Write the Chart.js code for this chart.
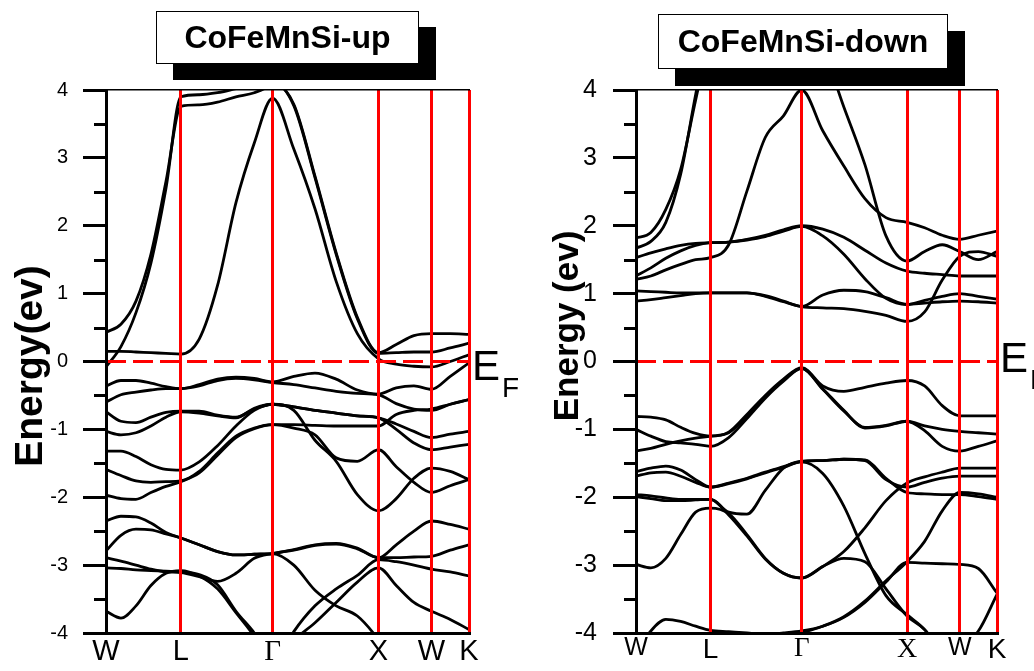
<!DOCTYPE html>
<html>
<head>
<meta charset="utf-8">
<script src="https://cdn.jsdelivr.net/npm/chart.js@4.4.1/dist/chart.umd.min.js"></script>
<style>
  html, body { margin: 0; padding: 0; background: #fff; }
  body { width: 1034px; height: 671px; position: relative; overflow: hidden; }
  canvas { position: absolute; top: 0; }
  .tag {
    position: absolute;
    box-sizing: border-box;
    background: #fff;
    border: 1.5px solid #000;
    font-family: 'Liberation Sans', Arial, sans-serif;
    font-weight: bold;
    font-size: 32px;
    text-align: center;
    color: #000;
  }
</style>
</head>
<body>
<canvas id="upChart" width="530" height="671" style="left:0"></canvas>
<canvas id="downChart" width="517" height="671" style="left:517px"></canvas>
<div class="tag" style="left:156px; top:11px; width:263px; height:53px; line-height:50px; box-shadow:17px 16px 0 #000;">CoFeMnSi-up</div>
<div class="tag" style="left:658px; top:14px; width:290px; height:55px; line-height:52px; box-shadow:17px 17px 0 #000;">CoFeMnSi-down</div>
<script>
// k-path W-L-Γ-X-W-K (units of 2π/a), sample points shared by every band
const kPath = [0, 0.141, 0.283, 0.424, 0.566, 0.707, 0.880, 1.053, 1.227, 1.400, 1.573,
               1.773, 1.973, 2.173, 2.373, 2.573, 2.740, 2.907, 3.073, 3.250, 3.427];
const kSym = [0, 0.707, 1.573, 2.573, 3.073, 3.427];
const upSymLabels = ['W', 'L', 'Γ', 'X', 'W', 'K'];
const downSymLabels = ['W', 'L', 'Γ', 'X', 'W', 'K'];
const yMinor = [-3.5, -2.5, -1.5, -0.5, 0.5, 1.5, 2.5, 3.5];

// spin-up bands (eV)
const upC1 = [0.15, 0.15, 0.14, 0.13, 0.12, 0.11, 0.33, 1.12, 2.34, 3.22, 3.88, 3.13, 2.25, 1.18, 0.41, 0.04, -0.04, -0.07, -0.08, 0.00, 0.10];
const upC2 = [0.43, 0.55, 0.89, 1.58, 2.65, 3.76, 3.78, 3.82, 3.90, 3.96, 4.10, 4.50, 5, 5, 5, 5, 5, 5, 5, 5, 5];
const upC3 = [-0.08, 0.22, 0.72, 1.45, 2.55, 3.90, 3.93, 3.96, 4.02, 4.08, 4.12, 3.77, 2.71, 1.58, 0.63, 0.12, 0.13, 0.14, 0.14, 0.20, 0.27];
const upC4 = [5, 5, 5, 5, 5, 4.50, 4.40, 4.30, 4.20, 4.15, 4.12, 3.79, 2.73, 1.60, 0.65, 0.13, 0.25, 0.38, 0.41, 0.41, 0.40];
const upV1 = [-0.36, -0.28, -0.28, -0.32, -0.37, -0.40, -0.34, -0.26, -0.23, -0.25, -0.30, -0.22, -0.17, -0.26, -0.42, -0.48, -0.39, -0.36, -0.41, -0.22, -0.02];
const upV2 = [-0.60, -0.49, -0.45, -0.42, -0.40, -0.40, -0.36, -0.28, -0.25, -0.27, -0.31, -0.34, -0.39, -0.44, -0.47, -0.49, -0.62, -0.70, -0.72, -0.63, -0.56];
const upV3 = [-0.74, -0.88, -0.90, -0.82, -0.75, -0.73, -0.73, -0.79, -0.82, -0.70, -0.63, -0.67, -0.72, -0.76, -0.80, -0.83, -0.92, -1.03, -1.12, -1.07, -1.03];
const upV4 = [-1.03, -1.08, -1.05, -0.95, -0.82, -0.74, -0.76, -0.80, -0.83, -0.69, -0.63, -0.72, -1.16, -1.47, -1.96, -2.20, -2.02, -1.72, -1.57, -1.62, -1.74];
const upV5 = [-1.32, -1.32, -1.40, -1.52, -1.59, -1.60, -1.48, -1.24, -0.95, -0.72, -0.63, -0.67, -0.72, -0.76, -0.80, -0.83, -1.00, -1.20, -1.30, -1.26, -1.22];
const upV6 = [-1.59, -1.68, -1.76, -1.78, -1.77, -1.76, -1.62, -1.35, -1.10, -0.98, -0.93, -0.93, -0.94, -0.95, -0.95, -0.95, -0.78, -0.72, -0.70, -0.63, -0.56];
const upV7 = [-1.97, -2.02, -2.03, -1.93, -1.84, -1.77, -1.64, -1.38, -1.12, -0.99, -0.93, -0.98, -1.08, -1.42, -1.47, -1.30, -1.55, -1.78, -1.93, -1.83, -1.74];
const upV8 = [-2.35, -2.28, -2.29, -2.38, -2.52, -2.60, -2.70, -2.80, -2.85, -2.84, -2.83, -2.77, -2.70, -2.68, -2.75, -2.89, -2.70, -2.50, -2.35, -2.40, -2.47];
const upV9 = [-2.79, -2.56, -2.47, -2.48, -2.54, -2.60, -2.70, -2.80, -2.85, -2.84, -2.83, -3.00, -3.37, -3.60, -3.75, -4.10, -4.5, -4.5, -4.5, -4.5, -4.5];
const upV10 = [-2.89, -2.94, -3.00, -3.06, -3.10, -3.11, -3.17, -3.24, -3.12, -2.90, -2.83, -2.78, -2.71, -2.69, -2.76, -2.89, -2.89, -2.88, -2.87, -2.78, -2.70];
const upV11 = [-3.04, -3.05, -3.07, -3.08, -3.09, -3.10, -3.14, -3.29, -3.68, -4.00, -4.40, -4.10, -3.85, -3.55, -3.25, -3.04, -3.30, -3.55, -3.68, -3.80, -3.95];
const upV12 = [-3.68, -3.78, -3.60, -3.30, -3.12, -3.08, -3.16, -3.35, -3.70, -4.05, -4.50, -3.98, -3.60, -3.35, -3.15, -2.92, -2.95, -3.00, -3.06, -3.10, -3.16];

// spin-down bands (eV)
const downC1 = [0.89, 0.91, 0.94, 0.97, 1.00, 1.01, 1.01, 1.01, 0.96, 0.88, 0.81, 0.79, 0.78, 0.74, 0.68, 0.59, 0.73, 1.20, 1.55, 1.62, 1.55];
const downC2 = [1.04, 1.03, 1.02, 1.01, 1.01, 1.01, 1.01, 1.01, 0.97, 0.89, 0.81, 0.98, 1.05, 1.03, 0.94, 0.84, 0.86, 0.88, 0.89, 0.88, 0.86];
const downC3 = [1.26, 1.38, 1.52, 1.63, 1.71, 1.75, 1.76, 1.79, 1.84, 1.92, 1.99, 1.85, 1.58, 1.22, 0.93, 0.84, 0.90, 0.96, 1.00, 0.96, 0.92];
const downC4 = [1.53, 1.60, 1.66, 1.71, 1.74, 1.75, 1.76, 1.80, 1.86, 1.94, 2.00, 1.95, 1.83, 1.64, 1.45, 1.33, 1.30, 1.28, 1.26, 1.26, 1.26];
const downC5 = [1.21, 1.26, 1.35, 1.43, 1.50, 1.53, 1.72, 2.51, 3.30, 3.62, 4.00, 3.40, 2.88, 2.40, 2.12, 2.05, 1.97, 1.86, 1.80, 1.86, 1.92];
const downC6 = [1.82, 1.90, 2.24, 2.83, 3.85, 4.80, 5.2, 5.4, 5.4, 5.2, 5.0, 4.60, 3.75, 2.90, 1.85, 1.48, 1.62, 1.72, 1.62, 1.50, 1.62];
const downC7 = [1.67, 1.77, 2.05, 2.76, 3.93, 5.0, 5.4, 5.6, 5.6, 5.6, 5.6, 5.6, 5.6, 5.6, 5.6, 5.6, 5.6, 5.6, 5.6, 5.6, 5.6];
const downV1 = [-0.81, -0.82, -0.86, -0.97, -1.06, -1.10, -1.04, -0.78, -0.50, -0.26, -0.09, -0.36, -0.44, -0.38, -0.32, -0.28, -0.36, -0.65, -0.80, -0.80, -0.80];
const downV2 = [-1.00, -1.10, -1.18, -1.20, -1.22, -1.25, -1.12, -0.84, -0.54, -0.29, -0.10, -0.40, -0.72, -0.98, -0.95, -0.88, -0.95, -1.00, -1.03, -1.05, -1.07];
const downV3 = [-1.32, -1.28, -1.22, -1.17, -1.13, -1.10, -1.05, -0.80, -0.52, -0.27, -0.10, -0.41, -0.73, -0.97, -0.94, -0.88, -1.02, -1.25, -1.32, -1.25, -1.17];
const downV4 = [-1.62, -1.57, -1.54, -1.60, -1.74, -1.85, -1.79, -1.72, -1.63, -1.55, -1.47, -1.46, -1.44, -1.45, -1.72, -1.93, -1.95, -1.96, -1.96, -1.99, -2.03];
const downV5 = [-1.69, -1.64, -1.63, -1.69, -1.78, -1.85, -1.80, -1.73, -1.64, -1.56, -1.48, -1.65, -2.13, -2.83, -3.45, -3.73, -3.95, -4.3, -4.5, -4.5, -4.5];
const downV6 = [-1.96, -1.98, -2.01, -2.03, -2.03, -2.03, -2.22, -2.25, -1.90, -1.57, -1.47, -1.46, -1.44, -1.46, -1.74, -1.85, -1.78, -1.72, -1.69, -1.69, -1.69];
const downV7 = [-2.99, -3.04, -2.90, -2.55, -2.22, -2.16, -2.24, -2.55, -2.90, -3.12, -3.19, -3.02, -2.80, -2.45, -2.05, -1.79, -1.70, -1.63, -1.57, -1.57, -1.57];
const downV8 = [-1.99, -2.02, -2.05, -2.05, -2.04, -2.03, -2.26, -2.57, -2.91, -3.12, -3.19, -3.02, -2.90, -2.95, -3.35, -3.75, -3.95, -4.3, -4.5, -4.5, -4.5];
const downV9 = [-4.30, -3.97, -3.80, -3.83, -3.90, -3.96, -3.98, -4.00, -4.02, -4.00, -3.97, -3.90, -3.77, -3.55, -3.25, -2.96, -2.97, -2.98, -2.99, -3.05, -3.41];
const downV10 = [-4.5, -4.5, -4.5, -4.5, -4.5, -4.5, -4.5, -4.5, -4.3, -4.1, -4.0, -3.90, -3.76, -3.53, -3.23, -2.95, -2.65, -2.20, -1.93, -1.95, -2.00];
const downV11 = [-4.5, -4.5, -4.5, -4.5, -4.5, -4.5, -4.5, -4.5, -4.5, -4.5, -4.5, -4.5, -4.5, -4.5, -4.5, -4.5, -4.5, -4.4, -4.2, -3.97, -3.43];

const upBands = [upC1, upC2, upC3, upC4, upV1, upV2, upV3, upV4, upV5, upV6, upV7, upV8, upV9, upV10, upV11, upV12];
const downBands = [downC1, downC2, downC3, downC4, downC5, downC6, downC7,
                   downV1, downV2, downV3, downV4, downV5, downV6, downV7, downV8, downV9, downV10, downV11];

const SANS = 'Liberation Sans';
const SERIF = 'Liberation Serif';

// minor ticks on the energy axis, rotated axis title and the E_F marker
const panelDecor = {
  id: 'panelDecor',
  afterDraw(chart, args, opts) {
    const ctx = chart.ctx;
    const yScale = chart.scales.y;
    ctx.save();
    ctx.strokeStyle = '#000';
    ctx.lineWidth = 3;
    yMinor.forEach(v => {
      const py = Math.round(yScale.getPixelForValue(v)) + 0.5;
      ctx.beginPath();
      ctx.moveTo(yScale.right - opts.minorLen, py);
      ctx.lineTo(yScale.right, py);
      ctx.stroke();
    });

    ctx.fillStyle = '#000';
    ctx.save();
    ctx.translate(opts.titleX, opts.titleY);
    ctx.rotate(-Math.PI / 2);
    ctx.textAlign = 'center';
    ctx.textBaseline = 'alphabetic';
    ctx.font = 'bold ' + opts.titleSize + 'px "' + SANS + '"';
    ctx.fillText(opts.title, 0, 0);
    ctx.restore();

    const y0 = yScale.getPixelForValue(0);
    const x0 = chart.chartArea.right + opts.efDx;
    ctx.textBaseline = 'alphabetic';
    ctx.textAlign = 'left';
    ctx.font = '42px "' + SANS + '"';
    ctx.fillText('E', x0, y0 + opts.efDy);
    ctx.font = '28px "' + SANS + '"';
    ctx.fillText('F', x0 + 30, y0 + opts.efDy + 17);
    ctx.restore();
  }
};

function bandSet(values) {
  return {
    data: kPath.map((k, i) => ({ x: k, y: values[i] })),
    borderColor: '#000',
    borderWidth: 2.8,
    pointRadius: 0,
    cubicInterpolationMode: 'monotone',
    clip: 0,
    order: 1
  };
}

function makePanel(id, p) {
  const fermi = {
    data: [{ x: 0, y: 0 }, { x: kSym[kSym.length - 1], y: 0 }],
    borderColor: '#ff0000',
    borderWidth: 3,
    borderDash: [20, 7],
    pointRadius: 0,
    clip: 0,
    order: 0
  };
  return new Chart(document.getElementById(id), {
    type: 'line',
    data: { datasets: p.bands.map(bandSet).concat([fermi]) },
    plugins: [panelDecor],
    options: {
      responsive: false,
      animation: false,
      devicePixelRatio: 1,
      layout: { padding: { left: 0, top: 90, right: p.padRight, bottom: 0 } },
      plugins: {
        legend: { display: false },
        tooltip: { enabled: false },
        panelDecor: {
          minorLen: 12, efDx: p.efDx, efDy: p.efDy,
          title: p.yTitle, titleX: p.titleX, titleY: p.titleY, titleSize: p.titleSize
        }
      },
      scales: {
        x: {
          type: 'linear',
          min: 0,
          max: kSym[kSym.length - 1],
          afterBuildTicks: s => { s.ticks = kSym.map(v => ({ value: v })); },
          afterFit: s => { s.height = 38; },
          ticks: {
            autoSkip: false,
            maxRotation: 0,
            padding: p.xPad,
            color: '#000',
            font: c => p.tickFonts[c.index] || p.tickFonts[0],
            callback: (v, i) => p.labels[i]
          },
          grid: {
            drawTicks: false,
            color: c => (c.index === 0 ? 'rgba(0,0,0,0)' : '#ff0000'),
            lineWidth: 3,
            z: 1
          },
          border: { display: true, color: '#000', width: 3, z: 2 }
        },
        xTop: {
          type: 'linear',
          axis: 'x',
          position: 'top',
          min: 0,
          max: kSym[kSym.length - 1],
          afterFit: s => { s.height = 0; },
          ticks: { display: false },
          grid: { display: false },
          border: { display: true, color: '#000', width: 1.5, z: 2 }
        },
        y: {
          type: 'linear',
          min: -4,
          max: 4,
          afterFit: s => { s.width = p.yWidth; },
          ticks: {
            stepSize: 1,
            color: '#000',
            padding: p.yPad,
            font: { family: SANS, size: p.yFont },
            callback: v => String(v)
          },
          grid: { drawOnChartArea: false, drawTicks: true, tickLength: 23, tickWidth: 3, tickColor: '#000' },
          border: { display: true, color: '#000', width: 3, z: 2 }
        }
      }
    }
  });
}

makePanel('upChart', {
  bands: upBands,
  labels: upSymLabels,
  tickFonts: [
    { family: SANS, size: 29 }, { family: SANS, size: 29 }, { family: SERIF, size: 29 },
    { family: SANS, size: 29 }, { family: SANS, size: 29 }, { family: SANS, size: 29 }
  ],
  padRight: 61,
  yWidth: 106,
  yPad: 15,
  yFont: 20,
  xPad: 2,
  yTitle: 'Energy(ev)',
  titleSize: 39,
  titleX: 42,
  titleY: 366,
  efDx: 3,
  efDy: 18
});

makePanel('downChart', {
  bands: downBands,
  labels: downSymLabels,
  tickFonts: [
    { family: SANS, size: 25 }, { family: SANS, size: 28 }, { family: SERIF, size: 27 },
    { family: SERIF, size: 28 }, { family: SANS, size: 25 }, { family: SANS, size: 28 }
  ],
  padRight: 37,
  yWidth: 119,
  yPad: 16,
  yFont: 25,
  xPad: 0,
  yTitle: 'Energy (ev)',
  titleSize: 35,
  titleX: 61,
  titleY: 326,
  efDx: 3,
  efDy: 10
});
</script>
</body>
</html>
